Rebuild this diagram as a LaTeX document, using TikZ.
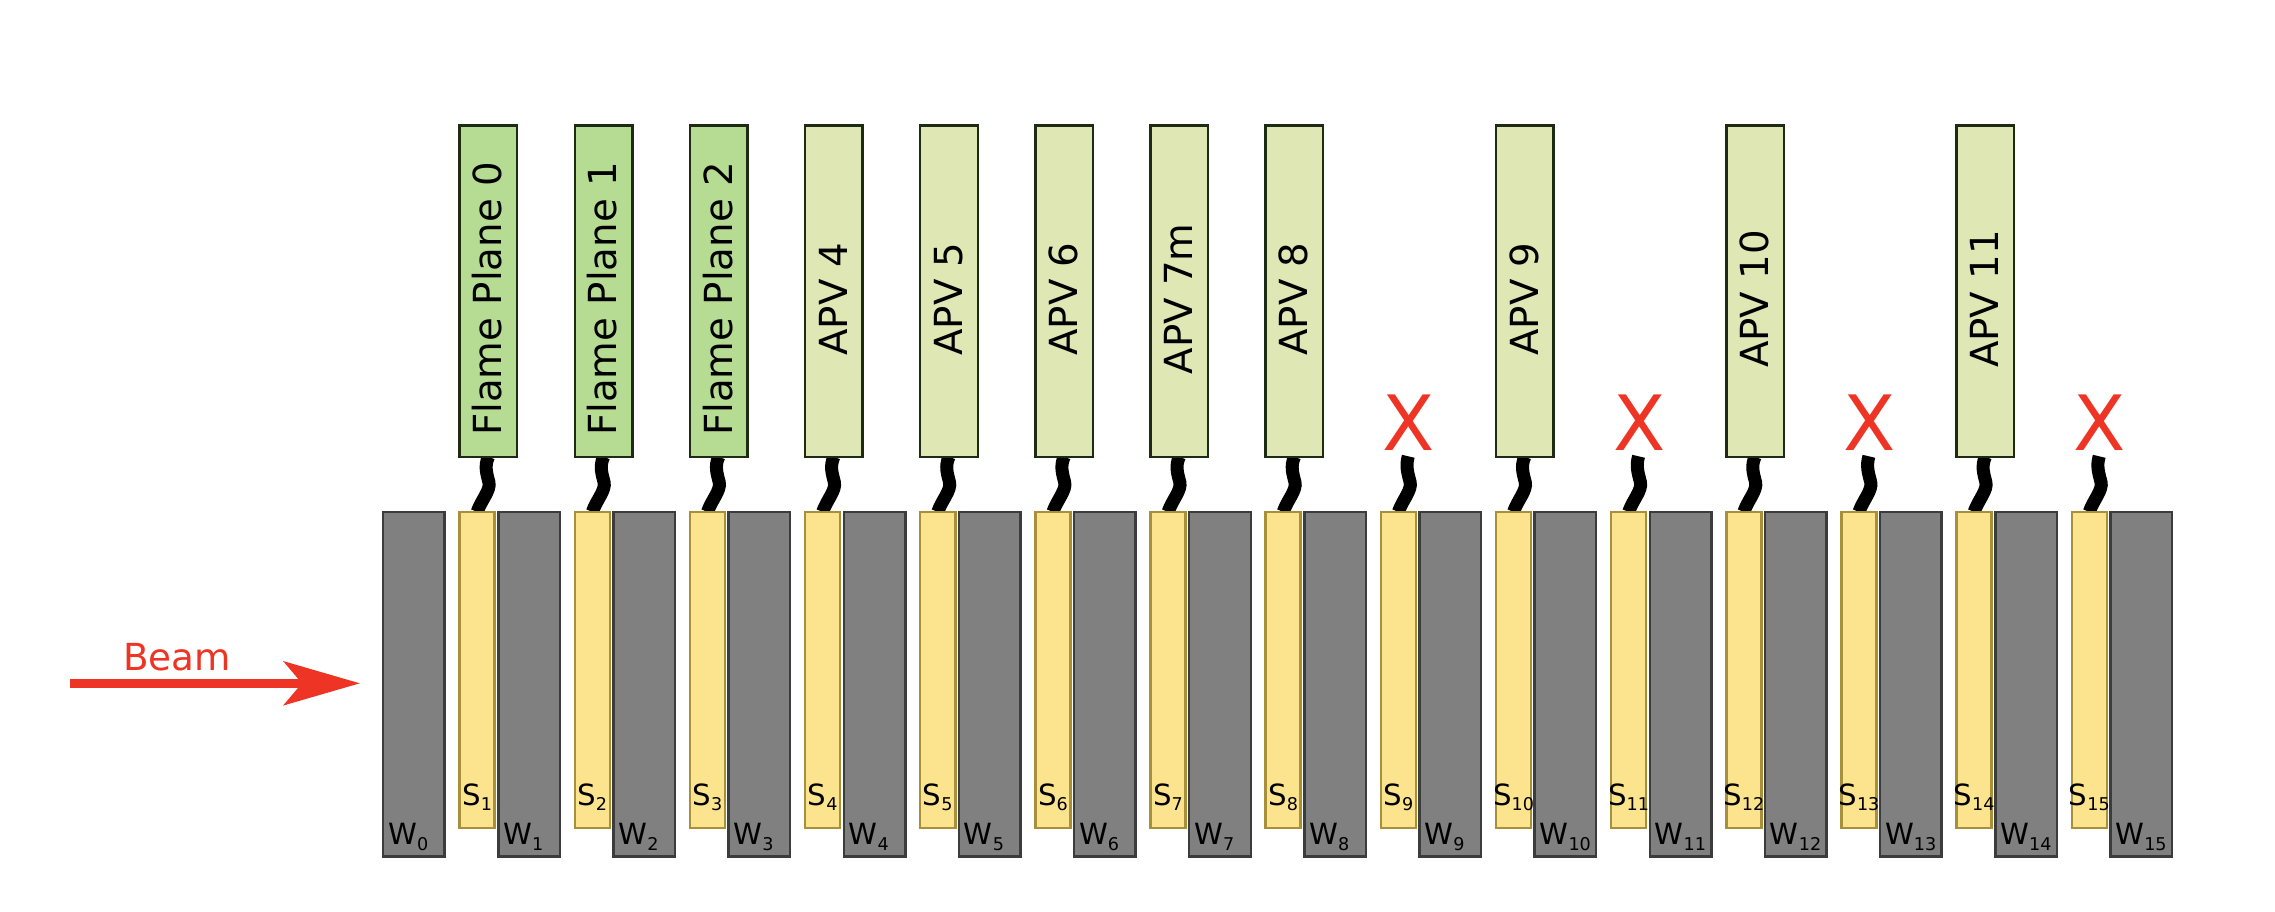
\documentclass[tikz,border=0pt]{standalone}
\usepackage{fontspec}
\setmainfont{DejaVu Sans}
\usetikzlibrary{arrows.meta,calc}
\pgfdeclarelayer{background}
\pgfsetlayers{background,main}
\definecolor{wfill}{HTML}{808080}
\definecolor{wline}{HTML}{3C3C3C}
\definecolor{sfill}{HTML}{FCE38E}
\definecolor{sline}{HTML}{A8903A}
\definecolor{fpfill}{HTML}{B5DC92}
\definecolor{apvfill}{HTML}{DFE8B5}
\definecolor{boxline}{HTML}{1E2A14}
\definecolor{beamred}{HTML}{EE3424}
\tikzset{
  wbox/.style={draw=wline, fill=wfill, line width=0.025cm, minimum width=0.615cm, minimum height=3.443cm, inner sep=0pt, outer sep=0pt},
  sbox/.style={draw=sline, fill=sfill, line width=0.025cm, minimum width=0.35cm, minimum height=3.161cm, inner sep=0pt, outer sep=0pt},
  rbox/.style={draw=boxline, line width=0.025cm, minimum width=0.575cm, minimum height=3.31cm, inner sep=0pt, outer sep=0pt},
  fpbox/.style={rbox, fill=fpfill},
  apvbox/.style={rbox, fill=apvfill},
  rlabel/.style={rotate=90, anchor=base, inner sep=0pt, font=\fontsize{11}{13}\selectfont},
  slabel/.style={anchor=base, inner sep=0pt, font=\fontsize{8.3}{10}\selectfont},
  wlabel/.style={anchor=base west, inner sep=0pt, font=\fontsize{8.3}{10}\selectfont},
  cable/.style={line width=0.13cm, black},
  deadmark/.style={anchor=base, inner sep=0pt, text=beamred, font=\fontsize{21.7}{24}\selectfont},
  beamarrow/.style={draw=beamred, line width=0.09cm, -{Stealth[length=0.76cm, width=0.435cm, inset=0.18cm]}},
  beamlabel/.style={anchor=base west, inner sep=0pt, text=beamred, font=\fontsize{10.6}{12}\selectfont},
}
\newcommand{\subidx}[1]{\raisebox{-1.7pt}{\fontsize{5}{6}\selectfont #1}}
\begin{document}
\begin{tikzpicture}[x=0.01cm, y=-0.01cm]
\useasboundingbox (0,0) rectangle (2275,911);

% tungsten plates
\foreach \i in {0,...,15} {
  \pgfmathsetmacro{\wx}{458.4+(\i-1)*115.15+38.7}
  \node[wbox] (W\i) at (\wx+32, 684.1) {};
  \node[wlabel] (wl\i) at (\wx+5.5, 844) {W\subidx{\i}};
}
% sensor planes
\foreach \i in {1,...,15} {
  \pgfmathsetmacro{\sx}{458.4+(\i-1)*115.15}
  \node[sbox] (S\i) at (\sx+18.75, 670) {};
  \node[slabel] (sl\i) at (\sx+18.75, 805) {S\subidx{\i}};
}
% readout boxes
\foreach \i/\lab/\sty in {1/Flame Plane 0/fpbox, 2/Flame Plane 1/fpbox, 3/Flame Plane 2/fpbox, 4/APV 4/apvbox, 5/APV 5/apvbox, 6/APV 6/apvbox, 7/APV 7m/apvbox, 8/APV 8/apvbox, 10/APV 9/apvbox, 12/APV 10/apvbox, 14/APV 11/apvbox} {
  \pgfmathsetmacro{\sx}{458.4+(\i-1)*115.15}
  \node[\sty] (A\i) at (\sx+30, 291.25) {};
  \node[rlabel] (L\i) at (\sx+43.3, 299) {\lab};
  \begin{pgfonlayer}{background}
    \draw[cable] (A\i.south) .. controls ($(A\i.south)+(-4.3,9.55)$) and ($(A\i.south)+(-1.5,17.25)$) .. ($(A\i.south)+(0.5,25.25)$) .. controls ($(A\i.south)+(2.5,33.25)$) and ($(S\i.north)+(4.25,-12)$) .. (S\i.north);
  \end{pgfonlayer}
}
% unconnected planes
\foreach \i in {9,11,13,15} {
  \pgfmathsetmacro{\sx}{458.4+(\i-1)*115.15}
  \coordinate (T\i) at (\sx+28.7, 456.3);
  \node[deadmark] (X\i) at (\sx+29.3, 450.7) {X};
  \begin{pgfonlayer}{background}
    \draw[cable] (T\i) .. controls ($(T\i)+(-3,10)$) and ($(T\i)+(-0.2,17.7)$) .. ($(T\i)+(1.8,25.7)$) .. controls ($(T\i)+(3.8,33.7)$) and ($(S\i.north)+(4.25,-12)$) .. (S\i.north);
  \end{pgfonlayer}
}
% beam
\coordinate (beamL) at (70, 683.3);
\coordinate (beamR) at (360, 683.3);
\draw[beamarrow] (beamL) -- (beamR);
\node[beamlabel] (beamtxt) at (122.4, 670) {Beam};
\end{tikzpicture}
\end{document}
